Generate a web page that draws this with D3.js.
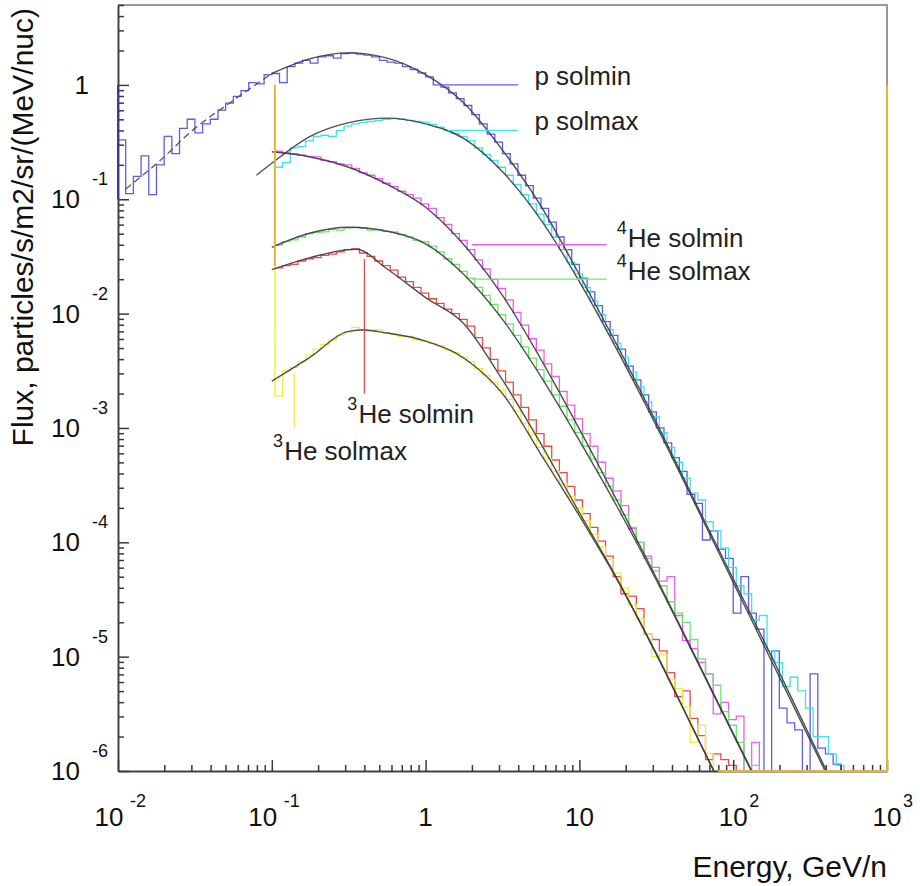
<!DOCTYPE html>
<html>
<head>
<meta charset="utf-8">
<script src="https://cdn.jsdelivr.net/npm/d3@7"></script>
<style>
  html, body { margin: 0; padding: 0; background: #fff; }
  svg { display: block; font-family: "Liberation Sans", Arial, Helvetica, sans-serif; }
</style>
</head>
<body>
<svg id="chart" width="920" height="886"></svg>
<script>
// Histograms use log-uniform bins, 20 per decade; each array holds log10(flux) per bin.
const BIN_WIDTH_LOG = 0.05;

// protons, solar minimum (bins start at 10^-2 GeV/n)
const pSolminStart = -2.0;
const pSolminLogFlux = [
  -0.48, -0.95, -0.80, -0.62, -0.96, -0.70, -0.45, -0.60, -0.38, -0.30,
  -0.42, -0.34, -0.30, -0.22, -0.16, -0.10, -0.05, 0.02, 0.01, 0.09,
  0.10, 0.02, 0.16, 0.19, 0.215, 0.19, 0.245, 0.255, 0.235, 0.275,
  0.28, 0.27, 0.26, 0.245, 0.215, 0.20, 0.19, 0.16, 0.135, 0.105,
  0.07, 0.0, -0.02, -0.07, -0.12, -0.18, -0.26, -0.34, -0.43, -0.50,
  -0.60, -0.69, -0.79, -0.88, -0.99, -1.08, -1.20, -1.33, -1.44, -1.57,
  -1.69, -1.81, -1.93, -2.07, -2.19, -2.31, -2.46, -2.58, -2.71, -2.86,
  -3.00, -3.13, -3.26, -3.38, -3.58, -3.66, -3.98, -3.90, -4.06, -4.14,
  -4.62, -4.30, -4.62, -4.76, -6.6, -4.95, -5.45, -5.58, -5.64, -6.6,
  -5.15, -5.80, -5.85, -5.94
];

// protons, solar maximum
const pSolmaxStart = -0.98;
const pSolmaxLogFlux = [
  -0.72, -0.68, -0.55, -0.54, -0.49, -0.45, -0.44, -0.45, -0.40, -0.36,
  -0.34, -0.33, -0.32, -0.31, -0.30, -0.295, -0.30, -0.31, -0.32, -0.325,
  -0.345, -0.37, -0.40, -0.425, -0.45, -0.49, -0.55, -0.61, -0.66, -0.72,
  -0.79, -0.87, -0.96, -1.04, -1.13, -1.22, -1.33, -1.44, -1.55, -1.65,
  -1.77, -1.89, -2.01, -2.14, -2.26, -2.38, -2.51, -2.64, -2.77, -2.90,
  -3.04, -3.17, -3.30, -3.44, -3.57, -3.63, -3.82, -3.90, -4.05, -4.22,
  -4.38, -4.45, -4.68, -4.64, -4.95, -5.05, -5.26, -5.18, -5.30, -5.45,
  -5.70, -5.70, -5.85, -5.95
];

// 4He, solar minimum
const he4SolminStart = -0.98;
const he4SolminLogFlux = [
  -0.58, -0.595, -0.60, -0.615, -0.625, -0.63, -0.66, -0.67, -0.69, -0.70,
  -0.73, -0.77, -0.79, -0.82, -0.86, -0.89, -0.93, -0.96, -0.99, -1.04,
  -1.08, -1.16, -1.22, -1.30, -1.36, -1.44, -1.53, -1.61, -1.70, -1.78,
  -1.88, -1.99, -2.10, -2.22, -2.32, -2.44, -2.55, -2.68, -2.80, -2.92,
  -3.05, -3.16, -3.30, -3.44, -3.55, -3.68, -3.88, -4.00, -4.12, -4.22,
  -4.34, -4.30, -4.64, -4.86, -4.93, -5.05, -5.15, -5.50, -5.40, -5.55,
  -5.52, -6.6, -5.75, -6.6
];

// 4He, solar maximum
const he4SolmaxStart = -0.98;
const he4SolmaxLogFlux = [
  -1.40, -1.37, -1.355, -1.33, -1.30, -1.29, -1.285, -1.265, -1.27, -1.25,
  -1.245, -1.25, -1.27, -1.265, -1.28, -1.285, -1.31, -1.33, -1.36, -1.37,
  -1.41, -1.46, -1.52, -1.57, -1.63, -1.69, -1.77, -1.84, -1.92, -2.01,
  -2.09, -2.19, -2.29, -2.39, -2.49, -2.59, -2.71, -2.81, -2.93, -3.04,
  -3.16, -3.27, -3.39, -3.51, -3.63, -3.76, -3.87, -4.00, -4.14, -4.25,
  -4.38, -4.52, -4.62, -4.70, -4.85, -5.02, -5.15, -5.25, -5.48, -5.60,
  -5.75, -6.00, -5.95, -6.00, -6.6
];

// 3He, solar minimum
const he3SolminStart = -0.98;
const he3SolminLogFlux = [
  -1.60, -1.58, -1.57, -1.54, -1.52, -1.51, -1.49, -1.48, -1.46, -1.44,
  -1.435, -1.47, -1.50, -1.54, -1.58, -1.62, -1.68, -1.72, -1.77, -1.82,
  -1.87, -1.91, -1.96, -2.00, -2.05, -2.11, -2.21, -2.30, -2.40, -2.50,
  -2.60, -2.71, -2.82, -2.93, -3.05, -3.16, -3.28, -3.39, -3.51, -3.63,
  -3.75, -3.87, -3.99, -4.12, -4.30, -4.45, -4.47, -4.58, -4.80, -4.85,
  -4.95, -5.14, -5.35, -5.30, -5.54, -5.69, -5.90, -5.85, -5.90, -5.95,
  -6.6
];

// 3He, solar maximum (left edge rises to 0.026 before the first bin)
const he3SolmaxStart = -0.98;
const he3SolmaxEdgeTop = 0.026;
const he3SolmaxLogFlux = [
  -2.72, -2.50, -2.47, -2.42, -2.36, -2.31, -2.27, -2.23, -2.19, -2.16,
  -2.12, -2.14, -2.15, -2.14, -2.17, -2.18, -2.20, -2.20, -2.23, -2.24,
  -2.26, -2.28, -2.32, -2.34, -2.38, -2.42, -2.48, -2.54, -2.60, -2.67,
  -2.75, -2.85, -2.96, -3.06, -3.17, -3.27, -3.38, -3.49, -3.60, -3.70,
  -3.81, -3.93, -4.04, -4.15, -4.27, -4.40, -4.55, -4.67, -4.80, -5.00,
  -4.98, -5.20, -5.28, -5.44, -5.75, -5.60, -5.85, -6.00, -6.6
];

// Fitted spectra: [log10 E, log10 flux]
const pSolminFitExtrap = [[-1.95, -0.91], [-1.75, -0.69], [-1.5, -0.38], [-1.25, -0.135], [-1.0, 0.10]];
const pSolminFit = [[-1.0, 0.10], [-0.75, 0.23], [-0.5, 0.28], [-0.25, 0.235], [0, 0.09], [0.25, -0.16],
  [0.5, -0.57], [0.75, -1.06], [1.0, -1.66], [1.25, -2.29], [1.5, -2.95], [1.75, -3.64], [2.0, -4.32],
  [2.25, -5.0], [2.5, -5.7], [2.75, -6.4]];
const pSolmaxFit = [[-1.1, -0.79], [-1.0, -0.685], [-0.75, -0.45], [-0.5, -0.33], [-0.25, -0.29], [0, -0.34],
  [0.25, -0.47], [0.5, -0.76], [0.75, -1.18], [1.0, -1.72], [1.25, -2.33], [1.5, -2.98], [1.75, -3.66],
  [2.0, -4.35], [2.25, -5.04], [2.5, -5.73], [2.75, -6.42]];
const he4SolminFit = [[-1.0, -0.585], [-0.75, -0.63], [-0.5, -0.72], [-0.25, -0.87], [0, -1.07], [0.25, -1.40],
  [0.5, -1.84], [0.75, -2.40], [1.0, -3.01], [1.25, -3.65], [1.5, -4.31], [1.75, -4.99], [2.0, -5.67], [2.25, -6.35]];
const he4SolmaxFit = [[-1.0, -1.42], [-0.75, -1.295], [-0.5, -1.245], [-0.25, -1.28], [0, -1.39], [0.25, -1.66],
  [0.5, -2.05], [0.75, -2.55], [1.0, -3.11], [1.25, -3.70], [1.5, -4.33], [1.75, -5.0], [2.0, -5.68], [2.25, -6.36]];
const he3SolminFit = [[-1.0, -1.615], [-0.75, -1.51], [-0.5, -1.44], [-0.45, -1.437], [-0.25, -1.61], [0, -1.86],
  [0.25, -2.09], [0.5, -2.58], [0.75, -3.14], [1.0, -3.74], [1.25, -4.33], [1.5, -4.98], [1.75, -5.66], [2.0, -6.34]];
const he3SolmaxFit = [[-1.0, -2.59], [-0.75, -2.38], [-0.5, -2.155], [-0.4, -2.143], [-0.25, -2.17], [0, -2.24],
  [0.25, -2.39], [0.5, -2.70], [0.75, -3.23], [1.0, -3.77], [1.25, -4.34], [1.5, -4.97], [1.75, -5.66], [2.0, -6.35]];

// Axis ranges and tick decades
const energyRange = [1e-2, 1e3];
const fluxRange = [1e-6, 5];
const xDecades = [-2, -1, 0, 1, 2, 3];
const yDecades = [-6, -5, -4, -3, -2, -1, 0];

// Labels: text, leader line (E, flux pairs) and label anchor (E, flux)
const labels = [
  { iso: "", name: "p solmin", color: "#5c5cf2", line: [[1.25, 1], [4, 1]], at: [5.1, 1] },
  { iso: "", name: "p solmax", color: "#3ce4ee", line: [[1.4, 0.4], [4, 0.4]], at: [5.1, 0.404] },
  { iso: "4", name: "He solmin", color: "#f25cf2", line: [[2, 0.04], [15, 0.04]], at: [17.5, 0.0385] },
  { iso: "4", name: "He solmax", color: "#6ae86a", line: [[2, 0.02], [15, 0.02]], at: [17.5, 0.0197] },
  { iso: "3", name: "He solmin", color: "#f04848", line: [[0.4, 0.03], [0.4, 0.002]], at: [0.31, 0.0011] },
  { iso: "3", name: "He solmax", color: "#f0ee3c", line: [[0.14, 0.003], [0.14, 0.001]], at: [0.102, 0.000525] }
];

// ---- drawing ----
const margin = { left: 118, right: 887, top: 5, bottom: 771 };
const svg = d3.select("#chart");
svg.append("rect").attr("width", 920).attr("height", 886).attr("fill", "#fff");

const x = d3.scaleLog().domain(energyRange).range([margin.left, margin.right]);
const y = d3.scaleLog().domain(fluxRange).range([margin.bottom, margin.top]);

svg.append("clipPath").attr("id", "plotClip")
  .append("rect")
  .attr("x", margin.left).attr("y", margin.top)
  .attr("width", margin.right - margin.left).attr("height", margin.bottom - margin.top);

const plot = svg.append("g").attr("clip-path", "url(#plotClip)");

function histPath(start, logVals, edgeTop) {
  const edge = i => Math.pow(10, start + i * BIN_WIDTH_LOG);
  const p = d3.path();
  const y0 = edgeTop !== undefined ? y(edgeTop) : y(Math.pow(10, logVals[0]));
  p.moveTo(x(edge(0)), y0);
  logVals.forEach((v, i) => {
    p.lineTo(x(edge(i)), y(Math.pow(10, v)));
    p.lineTo(x(edge(i + 1)), y(Math.pow(10, v)));
  });
  p.lineTo(x(edge(logVals.length)), y(fluxRange[0]) + 30);
  return p.toString();
}

const hists = [
  { start: pSolminStart, vals: pSolminLogFlux, color: "#5c5cf2" },
  { start: pSolmaxStart, vals: pSolmaxLogFlux, color: "#3ce4ee" },
  { start: he4SolminStart, vals: he4SolminLogFlux, color: "#f25cf2" },
  { start: he4SolmaxStart, vals: he4SolmaxLogFlux, color: "#6ae86a" },
  { start: he3SolminStart, vals: he3SolminLogFlux, color: "#f04848" },
  { start: he3SolmaxStart, vals: he3SolmaxLogFlux, color: "#f0ee3c", edgeTop: he3SolmaxEdgeTop }
];

hists.forEach(h => {
  plot.append("path")
    .attr("d", histPath(h.start, h.vals, h.edgeTop))
    .attr("fill", "none")
    .attr("stroke", h.color)
    .attr("stroke-width", 1.3)
    .attr("stroke-linejoin", "miter");
});

// fitted curves
const fitLine = d3.line()
  .x(d => x(Math.pow(10, d[0])))
  .y(d => y(Math.pow(10, d[1])))
  .curve(d3.curveMonotoneX);

plot.append("path").attr("d", fitLine(pSolminFitExtrap))
  .attr("fill", "none").attr("stroke", "#555").attr("stroke-width", 1.3)
  .attr("stroke-dasharray", "7,4");

[pSolminFit, pSolmaxFit, he4SolminFit, he4SolmaxFit, he3SolminFit, he3SolmaxFit].forEach(f => {
  plot.append("path").attr("d", fitLine(f))
    .attr("fill", "none").attr("stroke", "#3c3c3c").attr("stroke-width", 1.4)
    .attr("stroke-opacity", 0.9);
});

// label leader lines
labels.forEach(l => {
  plot.append("line")
    .attr("x1", x(l.line[0][0])).attr("y1", y(l.line[0][1]))
    .attr("x2", x(l.line[1][0])).attr("y2", y(l.line[1][1]))
    .attr("stroke", l.color).attr("stroke-width", 1.3);
});

// frame (top and right)
const goldLeftTop = 1, goldBottomFrom = 80;
svg.append("path")
  .attr("d", `M${margin.left},${margin.top}H${margin.right}V${y(goldLeftTop)}`)
  .attr("fill", "none").attr("stroke", "#999").attr("stroke-width", 2);

// axes, ticks pointing inward
const xMajor = xDecades.map(k => Math.pow(10, k));
const xMinor = [];
xDecades.slice(0, -1).forEach(k => { for (let m = 2; m <= 9; m++) xMinor.push(m * Math.pow(10, k)); });
const yMajor = yDecades.map(k => Math.pow(10, k));
const yMinor = [];
yDecades.forEach(k => { for (let m = 2; m <= 9; m++) { const v = m * Math.pow(10, k); if (v <= fluxRange[1]) yMinor.push(v); } });

const axisColor = "#3a3a3a";
function styleAxis(g) {
  g.selectAll("path, line").attr("stroke", axisColor).attr("stroke-width", 1.5);
  g.selectAll("text").remove();
}
svg.append("g").attr("transform", `translate(0,${margin.bottom})`)
  .call(d3.axisTop(x).tickValues(xMinor).tickSize(6).tickSizeOuter(0).tickFormat(""))
  .call(styleAxis);
svg.append("g").attr("transform", `translate(0,${margin.bottom})`)
  .call(d3.axisTop(x).tickValues(xMajor).tickSize(11).tickSizeOuter(0).tickFormat(""))
  .call(styleAxis);
svg.append("g").attr("transform", `translate(${margin.left},0)`)
  .call(d3.axisRight(y).tickValues(yMinor).tickSize(6).tickSizeOuter(0).tickFormat(""))
  .call(styleAxis);
svg.append("g").attr("transform", `translate(${margin.left},0)`)
  .call(d3.axisRight(y).tickValues(yMajor).tickSize(11).tickSizeOuter(0).tickFormat(""))
  .call(styleAxis);

// gold outline drawn over the frame on the right and bottom
svg.append("path")
  .attr("d", (() => {
    const p = d3.path();
    p.moveTo(x(Math.pow(10, he3SolmaxStart)), y(goldLeftTop));
    p.lineTo(x(Math.pow(10, he3SolmaxStart)), y(he3SolmaxEdgeTop));
    p.moveTo(x(goldBottomFrom), y(fluxRange[0]));
    p.lineTo(x(energyRange[1]), y(fluxRange[0]));
    p.lineTo(x(energyRange[1]), y(goldLeftTop));
    return p.toString();
  })())
  .attr("fill", "none").attr("stroke", "#e2b43a").attr("stroke-width", 2);

// navy left edge of the proton histogram, over the axis line
svg.append("line")
  .attr("x1", x(energyRange[0])).attr("x2", x(energyRange[0]))
  .attr("y1", y(1)).attr("y2", y(0.1))
  .attr("stroke", "#3a3aa0").attr("stroke-width", 2);

// tick labels with superscript exponents
const labelColor = "#111";
const tickFont = 26, supFont = 18;
xDecades.forEach(k => {
  const tx = x(Math.pow(10, k));
  const base = 826;
  if (k === 0 || k === 1) {
    svg.append("text").attr("x", tx).attr("y", base).attr("text-anchor", "middle")
      .attr("font-size", tickFont).attr("fill", labelColor).text(k === 0 ? "1" : "10");
  } else {
    const neg = k < 0;
    svg.append("text").attr("x", tx + (neg ? -9 : 0)).attr("y", base).attr("text-anchor", "middle")
      .attr("font-size", tickFont).attr("fill", labelColor).text("10");
    svg.append("text").attr("x", tx + (neg ? 12 : 16)).attr("y", base - 19).attr("text-anchor", "start")
      .attr("font-size", supFont).attr("fill", labelColor).text(String(k));
  }
});
yDecades.forEach(k => {
  const ty = y(Math.pow(10, k));
  if (k === 0) {
    svg.append("text").attr("x", 89).attr("y", ty + 9).attr("text-anchor", "end")
      .attr("font-size", tickFont).attr("fill", labelColor).text("1");
  } else {
    svg.append("text").attr("x", 80).attr("y", ty + 9).attr("text-anchor", "end")
      .attr("font-size", tickFont).attr("fill", labelColor).text("10");
    svg.append("text").attr("x", 92).attr("y", ty - 14).attr("text-anchor", "start")
      .attr("font-size", supFont).attr("fill", labelColor).text(String(k));
  }
});

// axis titles
svg.append("text").attr("x", margin.right).attr("y", 877).attr("text-anchor", "end")
  .attr("font-size", 30).attr("fill", labelColor).text("Energy, GeV/n");
svg.append("text").attr("transform", `translate(33,8) rotate(-90)`).attr("text-anchor", "end")
  .attr("font-size", 30).attr("fill", labelColor).text("Flux, particles/s/m2/sr/(MeV/nuc)");

// series labels
labels.forEach(l => {
  const t = svg.append("text")
    .attr("x", x(l.at[0])).attr("y", y(l.at[1]))
    .attr("font-size", 26).attr("fill", "#222");
  if (l.iso) {
    t.append("tspan").attr("font-size", 18).attr("dy", -13).text(l.iso);
    t.append("tspan").attr("dy", 13).attr("dx", 1).text(l.name);
  } else {
    t.text(l.name);
  }
});
</script>
</body>
</html>
